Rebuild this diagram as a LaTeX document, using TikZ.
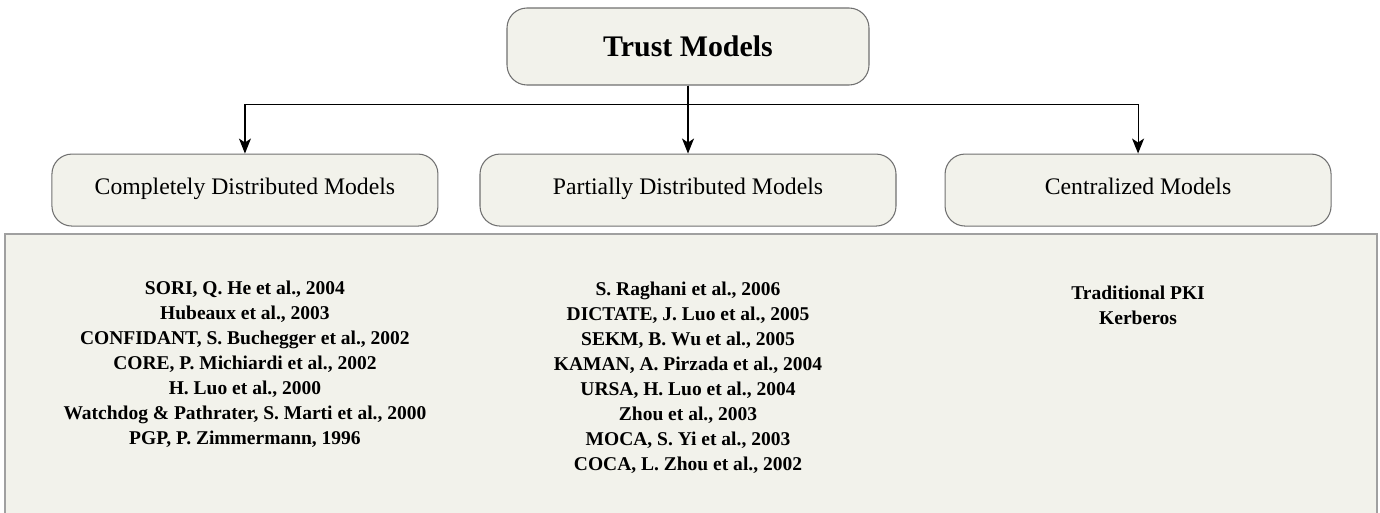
\documentclass[tikz,border=0pt]{standalone}
\usepackage{fontspec}
\setmainfont{Liberation Serif}
\usetikzlibrary{arrows.meta,positioning}
\definecolor{boxfill}{HTML}{F2F2EB}
\definecolor{boxline}{HTML}{707070}
\definecolor{panelline}{HTML}{A0A0A0}

\begin{document}
\begin{tikzpicture}[
  model/.style={draw=boxline,fill=boxfill,line width=0.6pt,rounded corners=0.4cm,
    minimum height=1.44cm,text height=0.7em,text depth=0.22em,
    font=\fontsize{13.5}{16}\selectfont},
  link/.style={-{Stealth[length=3mm,width=2.4mm,inset=0.8mm]},line width=0.65pt},
  refs/.style={align=center,inner sep=0pt,anchor=north,
    font=\bfseries\fontsize{11.1}{14.2}\selectfont}
]
\useasboundingbox (0,0) rectangle (27.6,-10.24);

% root and the three families
\node [model,minimum width=7.24cm,minimum height=1.54cm,text height={},text depth={},
  font=\bfseries\fontsize{17}{20}\selectfont] (trust) at (13.76,-0.93) {Trust Models};
\node [model,minimum width=8.32cm,below=1.36cm of trust] (pdm) {Partially Distributed Models};
\node [model,minimum width=7.72cm,left=0.82cm of pdm] (cdm) {Completely Distributed Models};
\node [model,minimum width=7.72cm,right=0.96cm of pdm] (cen) {Centralized Models};

\draw [link] (trust.south) -- (pdm.north);
\draw [link] (trust.south) -- ++(0,-0.38) -| (cdm.north);
\draw [link] (trust.south) -- ++(0,-0.38) -| (cen.north);

% panel with the references
\draw [draw=panelline,fill=boxfill,line width=1.1pt] (0.1,-4.68) rectangle (27.54,-10.6);

\node [refs] (cdmrefs) at (cdm |- 0,-5.62) {SORI, Q. He et al., 2004\\
  Hubeaux et al., 2003\\
  CONFIDANT, S. Buchegger et al., 2002\\
  CORE, P. Michiardi et al., 2002\\
  H. Luo et al., 2000\\
  Watchdog \& Pathrater, S. Marti et al., 2000\\
  PGP, P. Zimmermann, 1996};
\node [refs] (pdmrefs) at (pdm |- 0,-5.64) {S. Raghani et al., 2006\\
  DICTATE, J. Luo et al., 2005\\
  SEKM, B. Wu et al., 2005\\
  KAMAN, A. Pirzada et al., 2004\\
  URSA, H. Luo et al., 2004\\
  Zhou et al., 2003\\
  MOCA, S. Yi et al., 2003\\
  COCA, L. Zhou et al., 2002};
\node [refs] (cenrefs) at (cen |- 0,-5.71) {Traditional PKI\\
  Kerberos};

\end{tikzpicture}
\end{document}
